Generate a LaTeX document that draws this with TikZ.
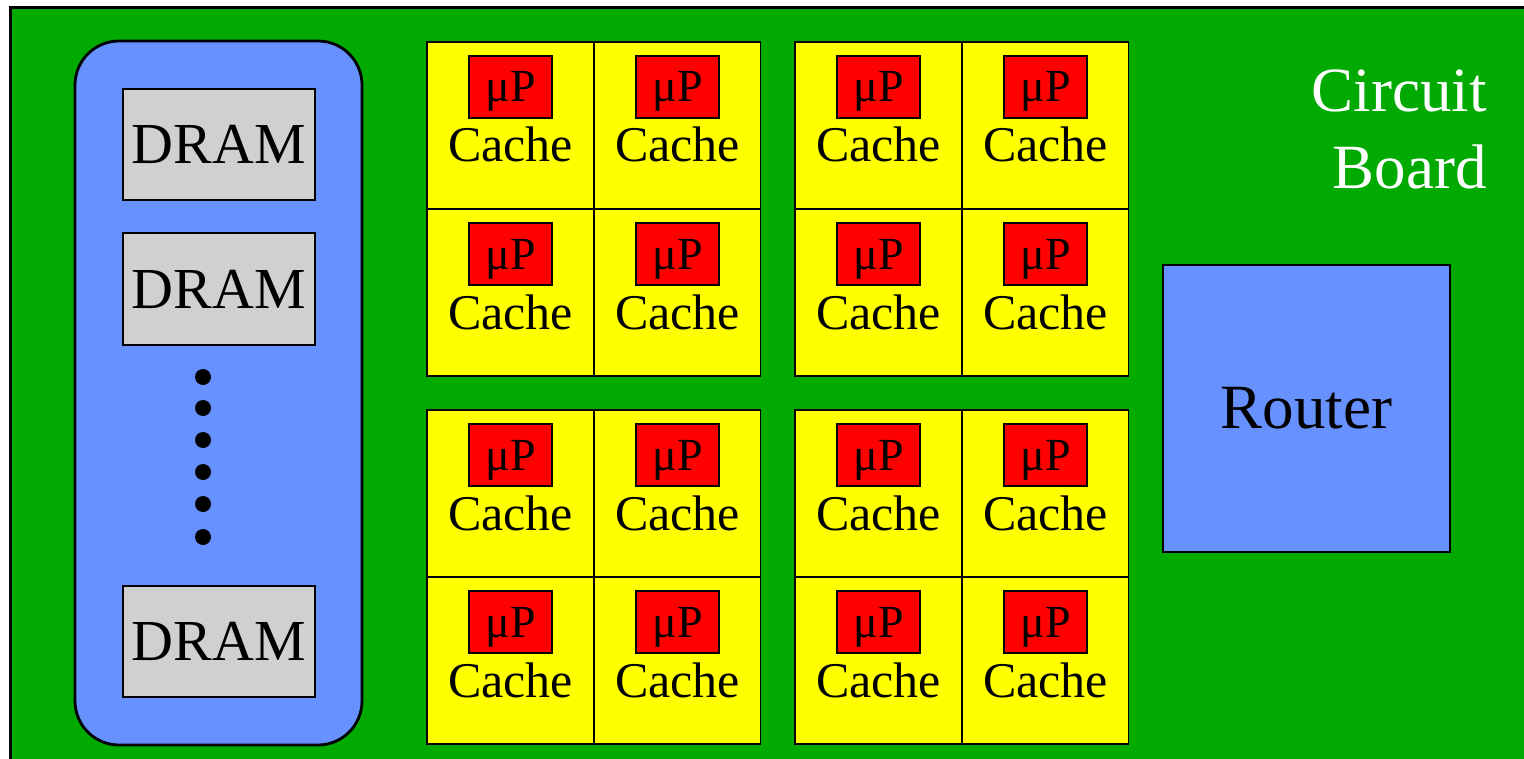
\documentclass[tikz,border=0pt]{standalone}
\usepackage{fontspec}
\setmainfont{Liberation Serif}
\definecolor{board}{RGB}{0,170,0}
\definecolor{bluebox}{RGB}{102,145,255}
\definecolor{dramgray}{RGB}{208,208,208}
\definecolor{chipyellow}{RGB}{255,255,0}
\definecolor{cpured}{RGB}{255,0,0}
\tikzset{
  px/.style={x=0.5pt,y=-0.5pt},
  boardstyle/.style={fill=board,draw=black,line width=1.5pt},
  memstyle/.style={fill=bluebox,draw=black,line width=1.4pt,rounded corners=22pt},
  dramstyle/.style={fill=dramgray,draw=black,line width=1pt,minimum width=96pt,minimum height=55.5pt,inner sep=0pt,font=\fontsize{29}{34}\selectfont},
  cellstyle/.style={fill=chipyellow,draw=black,line width=0.8pt},
  cpustyle/.style={fill=cpured,draw=black,line width=0.8pt,minimum width=41.5pt,minimum height=31pt,inner sep=0pt},
  cpulabel/.style={anchor=base,inner sep=0pt,font=\fontsize{23}{27}\selectfont},
  cachelabel/.style={anchor=base,inner sep=0pt,font=\fontsize{25}{30}\selectfont},
  routerstyle/.style={fill=bluebox,draw=black,line width=1pt,minimum width=143.5pt,minimum height=143.5pt,inner sep=0pt,font=\fontsize{31.5}{37}\selectfont},
  boardlabel/.style={anchor=base east,inner sep=0pt,text=white,font=\fontsize{31.5}{37}\selectfont},
  dotstyle/.style={circle,fill=black,inner sep=0pt,minimum size=8pt}
}
\begin{document}
\begin{tikzpicture}[px]
\useasboundingbox (0,0) rectangle (1524,759);
\begin{scope}
\clip (0,0) rectangle (1524,759);
\draw[boardstyle] (10,8) rectangle (1540,780);
\end{scope}
% memory module
\draw[memstyle] (75,41) rectangle (362,745);
\node[dramstyle] (d1) at (219,144.5) {DRAM};
\node[dramstyle] (d2) at (219,289) {DRAM};
\node[dramstyle] (d3) at (219,641) {DRAM};
\foreach \i/\y in {1/377,2/408,3/440,4/472,5/504,6/537}
  \node[dotstyle] (dot\i) at (203,\y) {};
% processor groups
\foreach \gx/\gy/\g in {427/42/a,795/42/b,427/410/c,795/410/d}{
  \foreach \cx/\cy/\c in {0/0/1,167/0/2,0/167/3,167/167/4}{
    \draw[cellstyle] (\gx+\cx,\gy+\cy) rectangle ++(166.5,167);
    \node[cpustyle] (cpu\g\c) at (\gx+\cx+83.5,\gy+\cy+45) {};
    \node[cpulabel] (mu\g\c) at (\gx+\cx+83.5,\gy+\cy+60) {μP};
    \node[cachelabel] (cache\g\c) at (\gx+\cx+83.5,\gy+\cy+120) {Cache};
  }
}
% router
\node[routerstyle] (router) at (1306.5,408.5) {Router};
% board label
\node[boardlabel] (circ) at (1487,112) {Circuit};
\node[boardlabel] (brd) at (1487,189) {Board};
\end{tikzpicture}
\end{document}
